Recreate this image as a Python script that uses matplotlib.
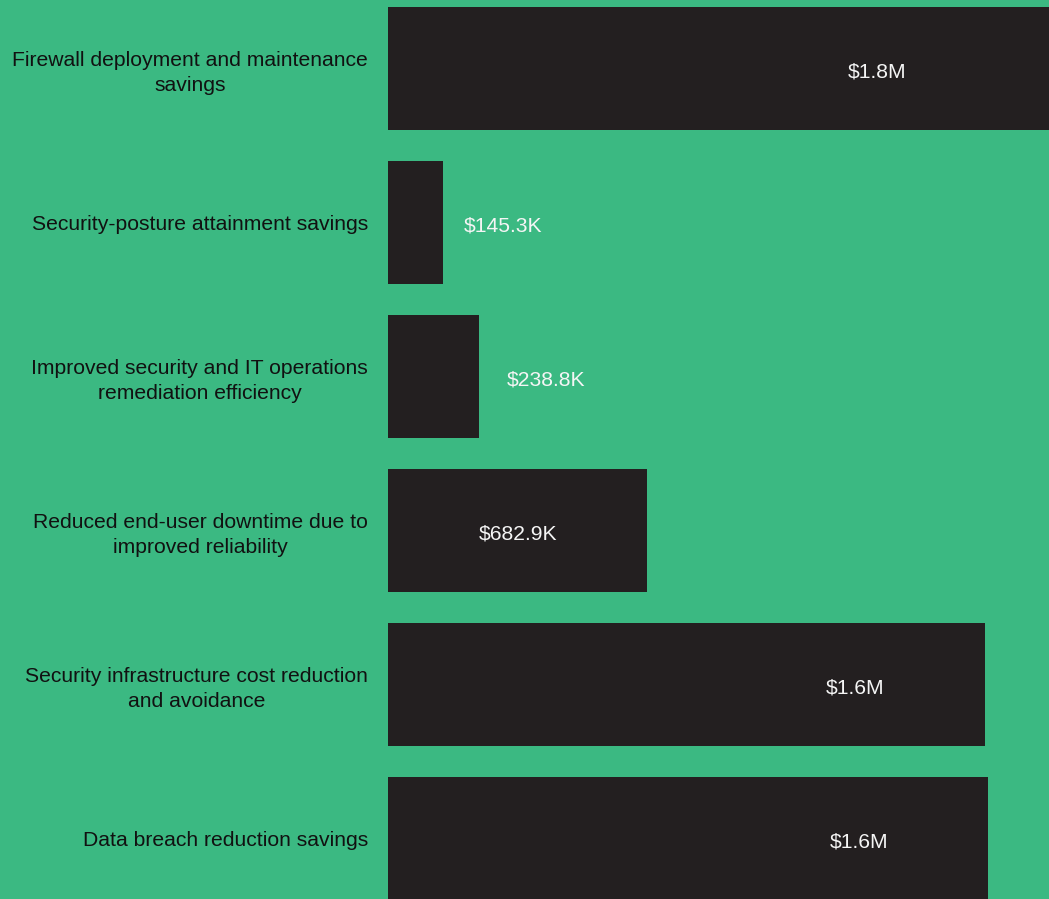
import matplotlib
matplotlib.use("Agg")
import matplotlib.pyplot as plt

# Savings categories (top to bottom) and their values in thousands of dollars
categories = [
    "Firewall deployment and maintenance\nsavings",
    "Security-posture attainment savings",
    "Improved security and IT operations\nremediation efficiency",
    "Reduced end-user downtime due to\nimproved reliability",
    "Security infrastructure cost reduction\nand avoidance",
    "Data breach reduction savings",
]
values_k = [1800, 145.3, 238.8, 682.9, 1575, 1583]
value_labels = ["$1.8M", "$145.3K", "$238.8K", "$682.9K", "$1.6M", "$1.6M"]

# Horizontal placement of each value label (thousands of dollars)
label_x = [1290, 303, 417, 343, 1232, 1243]

BG = "#3bb982"
BAR = "#231f20"

plt.rcParams["font.family"] = ["Liberation Sans", "DejaVu Sans"]

fig = plt.figure(figsize=(10.49, 8.99), dpi=100, facecolor=BG)
ax = fig.add_axes([388 / 1049, 0.0, 1 - 388 / 1049, 1.0])
ax.set_facecolor(BG)

ypos = list(range(len(categories)))
ax.barh(ypos, values_k, height=0.8, color=BAR)

ax.set_xlim(0, 1744)
ax.set_ylim((899 - 68.5) / 154, -68.5 / 154)

ax.set_yticks(ypos)
ax.set_yticklabels(categories, fontsize=15.2, color="#111111", ha="right",
                   multialignment="center", linespacing=1.35)
ax.tick_params(axis="y", length=0, pad=14.4)
ax.set_xticks([])
for s in ax.spines.values():
    s.set_visible(False)

for y, x, txt in zip(ypos, label_x, value_labels):
    ax.text(x, y + 0.02, txt, ha="center", va="center", fontsize=15.2,
            color="#f5f5f5")

fig.savefig("out.png", dpi=100, facecolor=BG)
